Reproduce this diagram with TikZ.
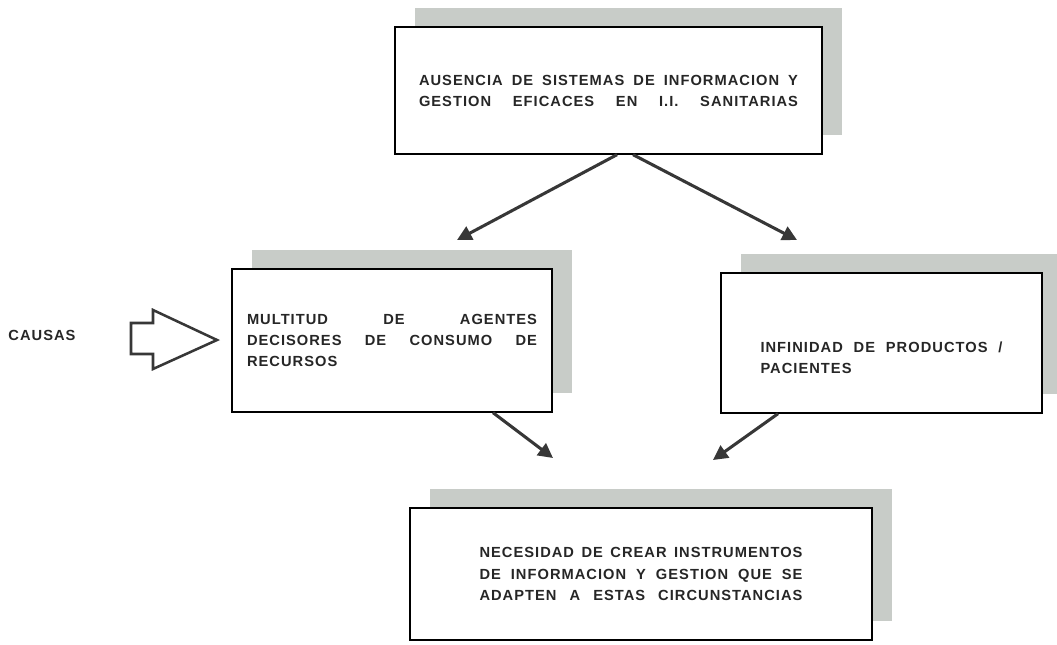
\documentclass[tikz,border=0pt]{standalone}
\usepackage{fontspec}
\setmainfont{Liberation Sans}[LetterSpace=7]
\usetikzlibrary{shadows,arrows.meta}

\definecolor{sombra}{RGB}{200,204,200}
\definecolor{flecha}{RGB}{55,55,55}

\tikzstyle{mybox} = [draw=black, fill=white, line width=1pt, rectangle, inner sep=0pt,
    drop shadow={shadow xshift=15pt, shadow yshift=14.25pt, opacity=1, fill=sombra}]
\tikzstyle{mytext} = [font=\bfseries\fontsize{11}{15.8}\selectfont, text=black!85, align=left]
\tikzstyle{myarrow} = [flecha, line width=2.3pt, -{Triangle[length=11pt,width=11pt]}]

% una linea justificada a todo el ancho
\newcommand{\linea}[1]{\makebox[\hsize][s]{\spaceskip=0.3em plus 1fil\relax #1}}

\begin{document}
\begin{tikzpicture}[x=0.75pt,y=-0.75pt]
\useasboundingbox (0,0) rectangle (1057,645);

\node [mybox, mytext, text width=284.25pt, minimum width=320.25pt, minimum height=95.25pt]
  (ausencia) at (608.5,90.5) {%
\linea{AUSENCIA DE SISTEMAS DE INFORMACION Y}\\
\linea{GESTION EFICACES EN I.I. SANITARIAS}};

\node [mybox, mytext, text width=217.5pt, minimum width=240pt, minimum height=107.25pt]
  (agentes) at (392,340.5) {%
\linea{MULTITUD DE AGENTES}\\
\linea{DECISORES DE CONSUMO DE}\\
RECURSOS};

\node [mybox, mytext, text width=181.5pt, minimum width=240.75pt, minimum height=105pt]
  (productos) at (881.5,343) {%
\vspace*{14pt}
\linea{INFINIDAD DE PRODUCTOS /}\\
PACIENTES};

\node [mybox, mytext, text width=242.25pt, minimum width=346.5pt, minimum height=99pt]
  (necesidad) at (641,574) {%
\linea{NECESIDAD DE CREAR INSTRUMENTOS}\\
\linea{DE INFORMACION Y GESTION QUE SE}\\
\linea{ADAPTEN A ESTAS CIRCUNSTANCIAS}};

\node [mytext] (causas) at (42,335) {CAUSAS};

% flecha gruesa de causas
\draw [flecha, line width=1.9pt] (131,323) -- (153,323) -- (153,310) -- (217,340)
  -- (153,369) -- (153,354) -- (131,354) -- cycle;

\coordinate (f1) at (457,240);
\coordinate (f2) at (797,240);
\coordinate (f3) at (553,458);
\coordinate (f4) at (713,460);

\draw [myarrow] ([xshift=6.4pt]ausencia.south) -- (f1);
\draw [myarrow] ([xshift=18.4pt]ausencia.south) -- (f2);
\draw [myarrow] ([xshift=75.75pt]agentes.south) -- (f3);
\draw [myarrow] ([xshift=-77.6pt]productos.south) -- (f4);
\end{tikzpicture}
\end{document}
